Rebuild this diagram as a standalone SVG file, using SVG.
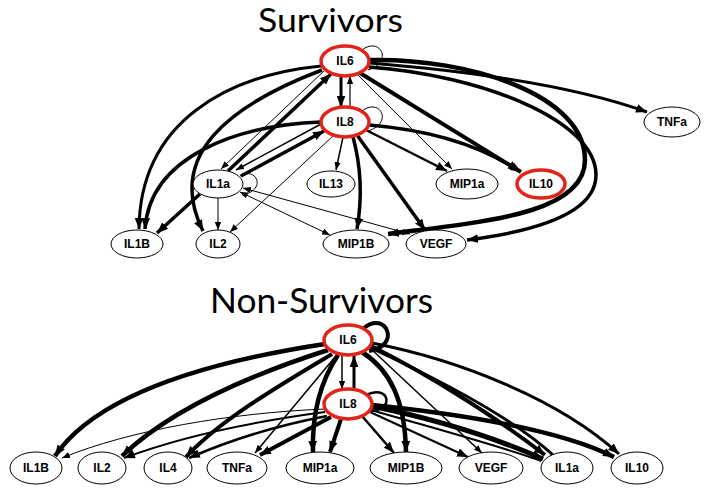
<svg xmlns="http://www.w3.org/2000/svg" width="709" height="492" viewBox="0 0 709 492">
<style>
.title{font-family:"Lato","Liberation Sans",sans-serif;fill:#000}
.n ellipse{fill:#fff;stroke:#000;stroke-width:1}
.n.hub ellipse{stroke:#e2231a;stroke-width:3.5}
.n text{font-family:"Liberation Sans",Arial,sans-serif;font-weight:bold;font-size:12px;text-anchor:middle;fill:#000}
#connectors path{fill:none;stroke:#000;stroke-linecap:butt}
.a{marker-end:url(#ah)}
.A{marker-end:url(#AH)}
.b{marker-start:url(#ahs);marker-end:url(#ah)}
</style>
<defs>
<marker id="ah" viewBox="0 0 10 8" refX="10" refY="4" markerWidth="8" markerHeight="6.4" markerUnits="userSpaceOnUse" orient="auto"><path d="M0,0 L10,4 L0,8 z" fill="#000"/></marker>
<marker id="ahs" viewBox="0 0 10 8" refX="0" refY="4" markerWidth="8" markerHeight="6.4" markerUnits="userSpaceOnUse" orient="auto"><path d="M10,0 L0,4 L10,8 z" fill="#000"/></marker>
<marker id="AH" viewBox="0 0 10 8" refX="10" refY="4" markerWidth="11" markerHeight="8.8" markerUnits="userSpaceOnUse" orient="auto"><path d="M0,0 L10,4 L0,8 z" fill="#000"/></marker>
</defs>
<rect width="709" height="492" fill="#fff"/>
<text class="title" x="258" y="32" font-size="32" textLength="145" lengthAdjust="spacingAndGlyphs">Survivors</text>
<text class="title" x="210" y="313" font-size="35" textLength="223" lengthAdjust="spacingAndGlyphs">Non-Survivors</text>

<g id="connectors">
<!-- Survivors -->
<path class="A" d="M341,76 L341,107" stroke-width="3"/>
<path class="a" d="M350,107 L350,76" stroke-width="1.2"/>
<path d="M362,50 C380,36 394,62 368,70" stroke-width="1"/>
<path d="M362,111 C380,97 394,123 368,131" stroke-width="1"/>
<path d="M240,176 C256,166 268,190 242,195" stroke-width="1"/>
<path class="A" d="M370,63 C480,72 580,88 647,112" stroke-width="3"/>
<path class="a" d="M357,74 L452,169" stroke-width="1"/>
<path class="A" d="M360,73 L521,172" stroke-width="4"/>
<path class="A" d="M369,125 C430,130 480,145 519,171" stroke-width="3.5"/>
<path class="A" d="M366,130 L447,171" stroke-width="2.5"/>
<path class="A" d="M370,60 C470,58 585,95 585,160 C585,215 480,222 388,234" stroke-width="4.5"/>
<path class="A" d="M369,67 C480,75 596,120 596,175 C596,215 530,232 467,240" stroke-width="3.5"/>
<path class="A" d="M353,137 C362,170 362,200 357,229" stroke-width="3.5"/>
<path class="A" d="M357,135 L425,230" stroke-width="3.5"/>
<path class="a" d="M343,137 L336,170" stroke-width="1.5"/>
<path class="a" d="M334,135 L230,232" stroke-width="1"/>
<path class="A" d="M241,176 L324,131" stroke-width="3.5"/>
<path class="a" d="M321,124 L236,170" stroke-width="1.5"/>
<path class="A" d="M228,171 L331,74" stroke-width="3.5"/>
<path class="a" d="M325,70 L221,169" stroke-width="1"/>
<path class="A" d="M200,194 L157,233" stroke-width="3.5"/>
<path class="a" d="M218,198 L218,230" stroke-width="1"/>
<path class="b" d="M240,192 L330,235" stroke-width="1"/>
<path class="b" d="M243,188 L410,234" stroke-width="1"/>
<path class="A" d="M321,66 C230,75 140,120 139,229" stroke-width="3"/>
<path class="A" d="M321,122 C240,125 150,155 145,229" stroke-width="3.5"/>
<path class="A" d="M322,70 C230,105 165,155 203,231" stroke-width="3.5"/>
<!-- Non-Survivors -->
<path d="M364,328 C386,310 402,346 369,351" stroke-width="4"/>
<path d="M366,395 C388,384 396,409 371,411" stroke-width="2.5"/>
<path class="a" d="M342,356 L342,389" stroke-width="1.5"/>
<path class="A" d="M354,389 L354,356" stroke-width="3"/>
<path class="A" d="M325,344 C220,360 100,390 55,456" stroke-width="4.5"/>
<path class="A" d="M328,350 C250,375 170,410 122,456" stroke-width="4.5"/>
<path class="A" d="M332,354 C280,385 220,420 186,457" stroke-width="4"/>
<path class="a" d="M335,357 L255,453" stroke-width="1.5"/>
<path class="A" d="M338,355 C318,385 312,420 313,452" stroke-width="4.5"/>
<path class="a" d="M325,409 C230,413 130,430 62,458" stroke-width="1"/>
<path class="A" d="M325,412 C250,422 180,437 124,458" stroke-width="2"/>
<path class="A" d="M327,416 C280,425 230,440 189,458" stroke-width="2.5"/>
<path class="A" d="M331,417 L260,455" stroke-width="4"/>
<path class="A" d="M341,419 L330,452" stroke-width="4"/>
<path class="A" d="M362,352 C390,370 405,400 406,452" stroke-width="4.5"/>
<path class="a" d="M370,348 L482,453" stroke-width="1.5"/>
<path class="A" d="M371,346 C430,375 500,420 545,455" stroke-width="4"/>
<path d="M373,349 C440,380 515,420 553,455" stroke-width="3"/>
<path class="A" d="M372,343 C460,360 560,400 619,454" stroke-width="3"/>
<path class="A" d="M362,416 L394,453" stroke-width="2.5"/>
<path class="A" d="M370,412 L468,457" stroke-width="2"/>
<path class="A" d="M371,406 C440,420 500,440 543,459" stroke-width="5"/>
<path d="M371,410 C440,430 500,446 541,461" stroke-width="2"/>
<path class="A" d="M372,405 C470,415 560,430 614,457" stroke-width="4.5"/>
</g>

<g id="s-IL6" class="n hub"><ellipse cx="345" cy="61" rx="24" ry="15"/><text x="345" y="65">IL6</text></g>
<g id="s-IL8" class="n hub"><ellipse cx="345" cy="122" rx="24" ry="15"/><text x="345" y="126">IL8</text></g>
<g id="s-TNFa" class="n"><ellipse cx="672" cy="122" rx="28" ry="15"/><text x="672" y="126">TNFa</text></g>
<g id="s-IL1a" class="n"><ellipse cx="218" cy="184" rx="25" ry="14"/><text x="218" y="188">IL1a</text></g>
<g id="s-IL13" class="n"><ellipse cx="331" cy="184" rx="24" ry="13"/><text x="331" y="188">IL13</text></g>
<g id="s-MIP1a" class="n"><ellipse cx="467" cy="184" rx="31" ry="15"/><text x="467" y="188">MIP1a</text></g>
<g id="s-IL10" class="n hub"><ellipse cx="541" cy="184" rx="24" ry="14"/><text x="541" y="188">IL10</text></g>
<g id="s-IL1B" class="n"><ellipse cx="137" cy="244" rx="26" ry="14"/><text x="137" y="248">IL1B</text></g>
<g id="s-IL2" class="n"><ellipse cx="218" cy="244" rx="22" ry="14"/><text x="218" y="248">IL2</text></g>
<g id="s-MIP1B" class="n"><ellipse cx="356" cy="244" rx="33" ry="14"/><text x="356" y="248">MIP1B</text></g>
<g id="s-VEGF" class="n"><ellipse cx="436" cy="244" rx="30" ry="14"/><text x="436" y="248">VEGF</text></g>

<g id="n-IL6" class="n hub"><ellipse cx="348" cy="340" rx="24" ry="15"/><text x="348" y="344">IL6</text></g>
<g id="n-IL8" class="n hub"><ellipse cx="348" cy="404" rx="24" ry="15"/><text x="348" y="408">IL8</text></g>
<g id="n-IL1B" class="n"><ellipse cx="36" cy="468" rx="26" ry="16"/><text x="36" y="472">IL1B</text></g>
<g id="n-IL2" class="n"><ellipse cx="102" cy="468" rx="24" ry="16"/><text x="102" y="472">IL2</text></g>
<g id="n-IL4" class="n"><ellipse cx="168" cy="468" rx="24" ry="16"/><text x="168" y="472">IL4</text></g>
<g id="n-TNFa" class="n"><ellipse cx="237" cy="468" rx="30" ry="16"/><text x="237" y="472">TNFa</text></g>
<g id="n-MIP1a" class="n"><ellipse cx="320" cy="468" rx="34" ry="16"/><text x="320" y="472">MIP1a</text></g>
<g id="n-MIP1B" class="n"><ellipse cx="406" cy="468" rx="36" ry="16"/><text x="406" y="472">MIP1B</text></g>
<g id="n-VEGF" class="n"><ellipse cx="491" cy="468" rx="32" ry="16"/><text x="491" y="472">VEGF</text></g>
<g id="n-IL1a" class="n"><ellipse cx="567" cy="468" rx="26" ry="16"/><text x="567" y="472">IL1a</text></g>
<g id="n-IL10" class="n"><ellipse cx="637" cy="468" rx="26" ry="16"/><text x="637" y="472">IL10</text></g>
</svg>
